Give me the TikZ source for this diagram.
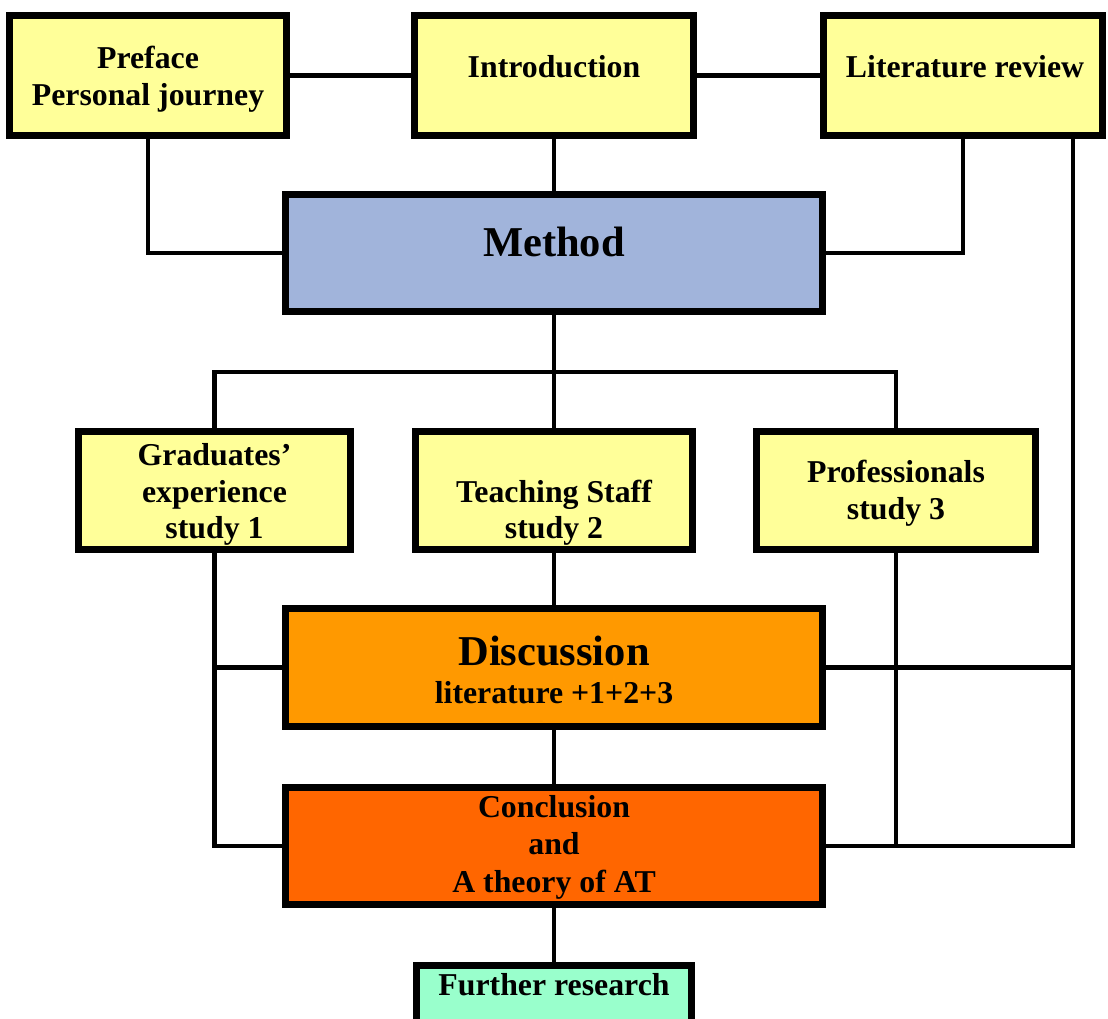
\documentclass[tikz,border=0pt]{standalone}
\usepackage{fontspec}
\setmainfont{Liberation Serif}
\begin{document}
\definecolor{paleyellow}{RGB}{255,255,153}
\definecolor{methodblue}{RGB}{161,180,219}
\definecolor{discorange}{RGB}{255,153,0}
\definecolor{conclorange}{RGB}{255,102,0}
\definecolor{mint}{RGB}{153,255,204}
\begin{tikzpicture}[x=1pt,y=-1pt,
  box/.style={draw=black, line width=4.6pt, rectangle, inner sep=0pt},
  link/.style={draw=black, line width=4.6pt, line join=miter},
  txt/.style={font=\fontsize{31.8}{36}\selectfont\bfseries, inner sep=0pt, anchor=base},
  bigtxt/.style={font=\fontsize{42.5}{48}\selectfont\bfseries, inner sep=0pt, anchor=base}]
\useasboundingbox (0,0) rectangle (1108,1019);
\clip (0,0) rectangle (1108,1019);

% chapter boxes
\node[box, fill=paleyellow, minimum width=275, minimum height=118] (pref) at (148,75.5) {};
\node[box, fill=paleyellow, minimum width=276, minimum height=118] (intro) at (554,75.5) {};
\node[box, fill=paleyellow, minimum width=277, minimum height=118] (lit) at (963,75.5) {};
\node[box, fill=methodblue, minimum width=534, minimum height=114] (method) at (554,253) {};
\node[box, fill=paleyellow, minimum width=269, minimum height=115] (grad) at (214.5,490.5) {};
\node[box, fill=paleyellow, minimum width=275, minimum height=115] (teach) at (554,490.5) {};
\node[box, fill=paleyellow, minimum width=276, minimum height=115] (prof) at (896,490.5) {};
\node[box, fill=discorange, minimum width=534, minimum height=115] (disc) at (554,667.5) {};
\node[box, fill=conclorange, minimum width=534, minimum height=114] (concl) at (554,846) {};
\node[box, fill=mint, minimum width=272, minimum height=80] (further) at (554,1007) {};
\coordinate (bus) at (554,372);
\coordinate (litR) at ([xshift=110pt]lit.south);

% top row links
\draw[link] (pref.east) -- (intro.west);
\draw[link] (intro.east) -- (lit.west);
\draw[link] (intro.south) -- (method.north);
\draw[link] (pref.south) |- (method.west);
\draw[link] (lit.south) |- (method.east);

% method to the three studies
\draw[link] (method.south) -- (bus);
\draw[link] (grad.north) |- (bus) -| (prof.north);
\draw[link] (bus) -- (teach.north);

% studies to discussion and conclusion
\draw[link] (grad.south) |- (concl.west);
\draw[link] (grad.south |- disc.west) -- (disc.west);
\draw[link] (teach.south) -- (disc.north);
\draw[link] (disc.south) -- (concl.north);
\draw[link] (prof.south) -- (prof.south |- concl.east);
\draw[link] (litR) |- (concl.east);
\draw[link] (disc.east) -- (disc.east -| litR);
\draw[link] (concl.south) -- (further.north);

% box outlines over the link ends
\foreach \n in {pref,intro,lit,method,grad,teach,prof,disc,concl,further}
  \draw[line width=4.6pt] (\n.north west) rectangle (\n.south east);

% labels
\node[txt] (prefA) at (148,69) {Preface};
\node[txt] (prefB) at (148,106) {Personal journey};
\node[txt] (introA) at (554,78) {Introduction};
\node[txt] (litA) at (965,78) {Literature review};
\node[bigtxt] (methodA) at (554,256) {Method};
\node[txt] (gradA) at (214.5,465) {Graduates’};
\node[txt] (gradB) at (214.5,502) {experience};
\node[txt] (gradC) at (214.5,538) {study 1};
\node[txt] (teachA) at (554,502) {Teaching Staff};
\node[txt] (teachB) at (554,538) {study 2};
\node[txt] (profA) at (896,482) {Professionals};
\node[txt] (profB) at (896,519) {study 3};
\node[bigtxt] (discA) at (554,665) {Discussion};
\node[txt] (discB) at (554,703) {literature +1+2+3};
\node[txt] (conclA) at (554,817) {Conclusion};
\node[txt] (conclB) at (554,854) {and};
\node[txt] (conclC) at (554,892) {A theory of AT};
\node[txt] (furtherA) at (554,995) {Further research};
\end{tikzpicture}
\end{document}
